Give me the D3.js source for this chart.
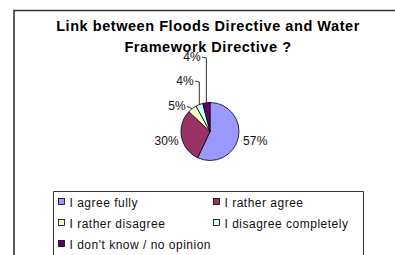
<!DOCTYPE html>
<html><head><meta charset="utf-8">
<script src="https://cdn.jsdelivr.net/npm/d3@7/dist/d3.min.js"></script>
<style>body{margin:0;background:#fff}svg{display:block}</style>
</head><body>
<script>
const categories = ["I agree fully","I rather agree","I rather disagree","I disagree completely","I don't know / no opinion"];
const values = [57,30,5,4,4];
const labels = ["57%","30%","5%","4%","4%"];
const colors = ["#9999FF","#993366","#FFFFCC","#CCFFFF","#660066"];
const titleLines = ["Link between Floods Directive and Water","Framework Directive ?"];

const W=395,H=255;
const svg=d3.select("body").append("svg").attr("width",W).attr("height",H);
const font="Liberation Sans, Arial, sans-serif";

// outer frame
svg.append("path").attr("d",`M14,${H+5} V10.5 H${W+5}`).attr("fill","none").attr("stroke","#333").attr("stroke-width",1.6);

// title
svg.append("g").selectAll("text").data(titleLines).join("text")
  .attr("x",208).attr("y",(d,i)=>30.5+i*21.5).attr("text-anchor","middle")
  .attr("font-family",font).attr("font-weight","bold").attr("font-size",14.5)
  .attr("letter-spacing",0.55).text(d=>d);

// pie
const cx=210,cy=131.5,r=29;
const pie=d3.pie().sort(null).value(d=>d)(values);
const arc=d3.arc().innerRadius(0).outerRadius(r);
const g=svg.append("g").attr("transform",`translate(${cx},${cy})`);
g.selectAll("path").data(pie).join("path").attr("d",arc)
  .attr("fill",(d,i)=>colors[i]).attr("stroke","#000").attr("stroke-width",0.8);

// labels
const labelPos=[[243,145,"start"],[179,145,"end"],[186,110,"end"],[194,85,"end"],[201,61,"end"]];
svg.append("g").selectAll("text").data(labels).join("text")
  .attr("x",(d,i)=>labelPos[i][0]).attr("y",(d,i)=>labelPos[i][1])
  .attr("text-anchor",(d,i)=>labelPos[i][2])
  .attr("font-family",font).attr("font-size",12).attr("letter-spacing",0.2).attr("fill","#111").text(d=>d);

// leader lines for small slices
const mid=d=>(d.startAngle+d.endAngle)/2;
const edge=(d)=>{const a=mid(d);return [cx+Math.sin(a)*r, cy-Math.cos(a)*r];};
const leaders=[
  {i:2, pts:[[187,106.5],[190,107.5]]},
  {i:3, pts:[[195,81],[198,82]]},
  {i:4, pts:[[202,57],[206,58]]}
];
leaders.forEach(L=>{
  const e=edge(pie[L.i]);
  svg.append("path").attr("d",d3.line()(L.i===2?[L.pts[0],L.pts[1],e]:[L.pts[0],[e[0],L.pts[1][1]],e]))
    .attr("fill","none").attr("stroke","#000").attr("stroke-width",0.8);
});

// legend
svg.append("path").attr("d",`M53.5,${H+5} V191.5 H363.5 V${H+5}`).attr("fill","none").attr("stroke","#333").attr("stroke-width",1);
const legPos=(i)=>[i%2===0?58:213, 202+Math.floor(i/2)*21];
const lg=svg.append("g").selectAll("g").data(categories).join("g")
  .attr("transform",(d,i)=>`translate(${legPos(i)[0]},${legPos(i)[1]})`);
lg.append("rect").attr("x",0.5).attr("y",-3.5).attr("width",6).attr("height",6)
  .attr("fill",(d,i)=>colors[i]).attr("stroke","#000").attr("stroke-width",0.8);
lg.append("text").attr("x",11.5).attr("y",4.5).attr("font-family",font).attr("font-size",12)
  .attr("letter-spacing",0.5).attr("fill","#111").text(d=>d);
</script>
</body></html>
